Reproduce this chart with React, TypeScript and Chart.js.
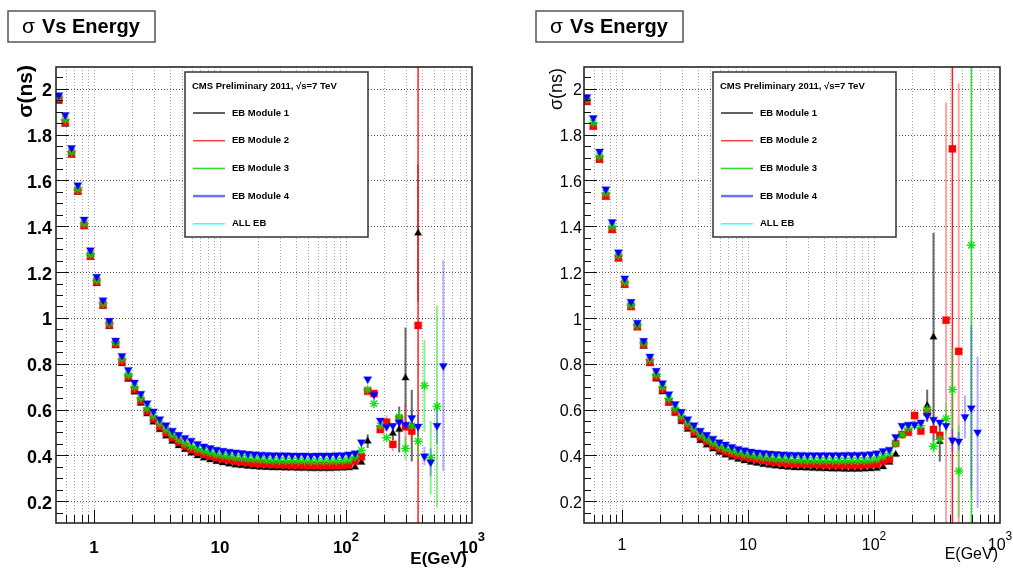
import React, { useEffect, useRef } from 'react';
import { Chart, registerables } from 'chart.js';

Chart.register(...registerables);

// ---------- DATA ----------
// Energy bin centres (GeV), 20 bins per decade
const energyBins: number[] = [
  0.527, 0.592, 0.664, 0.745, 0.836, 0.938, 1.052, 1.181, 1.325, 1.487,
  1.668, 1.872, 2.1, 2.356, 2.644, 2.966, 3.328, 3.734, 4.19, 4.701,
  5.275, 5.918, 6.64, 7.451, 8.36, 9.38, 10.52, 11.81, 13.25, 14.87,
  16.68, 18.72, 21.0, 23.56, 26.44, 29.66, 33.28, 37.34, 41.9, 47.01,
  52.75, 59.18, 66.4, 74.51, 83.6, 93.8, 105.2, 118.1, 132.5, 148.7,
  166.8, 187.2, 210.0, 235.6, 264.4, 296.6, 332.8, 373.4, 419.0, 470.1,
  527.5, 591.8, 664.0,
];

type V = number | null;

// Left panel
const leftModule1: V[] = [
  1.945, 1.845, 1.71, 1.548, 1.398, 1.264, 1.15, 1.05, 0.962, 0.878, 0.8, 0.732, 0.676, 0.627, 0.581, 0.545, 0.512, 0.484, 0.461, 0.442, 0.425, 0.41, 0.398, 0.388, 0.38, 0.373,
  0.367, 0.362, 0.358, 0.355, 0.352, 0.35, 0.348, 0.347, 0.346, 0.345, 0.344, 0.344, 0.343, 0.343, 0.342, 0.342, 0.342, 0.342, 0.343, 0.344, 0.345,
  0.349, 0.37, 0.462, null, null, null, 0.496, 0.513, 0.738, 0.53, 1.37, null, null, null, null, null,
];
const leftModule2: V[] = [
  1.955, 1.853, 1.716, 1.554, 1.404, 1.27, 1.158, 1.057, 0.97, 0.886, 0.81, 0.742, 0.687, 0.639, 0.593, 0.559, 0.526, 0.499, 0.477, 0.458, 0.44, 0.426, 0.414, 0.404, 0.397, 0.39,
  0.385, 0.38, 0.375, 0.372, 0.369, 0.366, 0.364, 0.362, 0.361, 0.36, 0.359, 0.358, 0.357, 0.357, 0.356, 0.356, 0.356, 0.355, 0.356, 0.356, 0.358,
  0.375, 0.394, 0.68, 0.67, 0.513, 0.545, 0.448, 0.56, 0.525, 0.506, 0.967, null, null, null, null, null,
];
const leftModule3: V[] = [
  1.962, 1.866, 1.725, 1.562, 1.412, 1.278, 1.165, 1.064, 0.977, 0.894, 0.82, 0.752, 0.699, 0.65, 0.607, 0.573, 0.54, 0.513, 0.49, 0.47, 0.453, 0.44, 0.429, 0.419, 0.412, 0.405,
  0.4, 0.396, 0.392, 0.389, 0.386, 0.384, 0.382, 0.38, 0.379, 0.378, 0.377, 0.377, 0.376, 0.376, 0.375, 0.375, 0.375, 0.375, 0.376, 0.377, 0.38,
  0.395, 0.422, 0.687, 0.626, 0.53, 0.477, null, 0.568, 0.43, 0.53, 0.462, 0.704, 0.39, 0.614, null, null,
];
const leftModule4: V[] = [
  1.973, 1.886, 1.742, 1.58, 1.43, 1.296, 1.18, 1.078, 0.988, 0.902, 0.835, 0.774, 0.719, 0.67, 0.629, 0.593, 0.559, 0.533, 0.509, 0.491, 0.477, 0.465, 0.451, 0.44, 0.433, 0.426,
  0.421, 0.417, 0.414, 0.411, 0.408, 0.406, 0.404, 0.403, 0.402, 0.401, 0.401, 0.4, 0.4, 0.4, 0.399, 0.4, 0.4, 0.4, 0.401, 0.402, 0.405,
  0.41, 0.458, 0.733, 0.665, 0.553, 0.525, 0.53, 0.545, 0.535, 0.564, 0.527, 0.397, 0.371, 0.53, 0.791, null,
];
// errors: [bin index, error]
const leftErr1: [number, number][] = [[49, 0.03], [53, 0.03], [54, 0.1], [55, 0.22], [56, 0.156], [57, 0.3]];
const leftErr2: [number, number][] = [[52, 0.03], [53, 0.03], [55, 0.1], [56, 0.05], [57, 2.0]];
const leftErr3: [number, number][] = [[54, 0.03], [55, 0.05], [57, 0.08], [58, 0.2], [59, 0.16], [60, 0.44]];
const leftErr4: [number, number][] = [[56, 0.03], [57, 0.05], [58, 0.04], [59, 0.06], [60, 0.08], [61, 0.46]];

// Right panel
const rightModule1: V[] = [
  1.94, 1.832, 1.688, 1.527, 1.381, 1.257, 1.142, 1.044, 0.956, 0.876, 0.8, 0.733, 0.677, 0.627, 0.583, 0.547, 0.514, 0.487, 0.464, 0.445, 0.428, 0.413, 0.401, 0.391, 0.383, 0.376,
  0.37, 0.365, 0.36, 0.356, 0.353, 0.35, 0.348, 0.346, 0.345, 0.344, 0.343, 0.342, 0.341, 0.34, 0.34, 0.339, 0.339, 0.339, 0.34, 0.341, 0.343,
  0.35, 0.37, 0.404, null, null, null, null, 0.617, 0.916, 0.46, null, null, null, null, null, null,
];
const rightModule2: V[] = [
  1.945, 1.838, 1.693, 1.532, 1.386, 1.262, 1.148, 1.05, 0.962, 0.883, 0.807, 0.742, 0.687, 0.636, 0.593, 0.559, 0.527, 0.501, 0.48, 0.462, 0.443, 0.429, 0.416, 0.407, 0.4, 0.394,
  0.388, 0.383, 0.378, 0.374, 0.371, 0.368, 0.366, 0.364, 0.363, 0.362, 0.361, 0.36, 0.359, 0.359, 0.358, 0.358, 0.358, 0.358, 0.359, 0.36, 0.362,
  0.375, 0.383, 0.452, 0.491, 0.501, 0.574, 0.506, 0.588, 0.513, 0.487, 0.99, 1.738, 0.854, null, null, null,
];
const rightModule3: V[] = [
  1.955, 1.852, 1.707, 1.545, 1.4, 1.273, 1.158, 1.058, 0.97, 0.891, 0.818, 0.754, 0.699, 0.649, 0.606, 0.573, 0.541, 0.515, 0.492, 0.474, 0.456, 0.441, 0.43, 0.42, 0.413, 0.406,
  0.401, 0.396, 0.392, 0.389, 0.386, 0.384, 0.382, 0.381, 0.38, 0.379, 0.378, 0.378, 0.377, 0.377, 0.377, 0.377, 0.377, 0.377, 0.378, 0.38, 0.384,
  0.395, 0.409, 0.452, 0.491, 0.52, 0.53, 0.53, 0.6, 0.44, 0.47, 0.56, 0.687, 0.332, null, 1.317, null,
];
const rightModule4: V[] = [
  1.965, 1.873, 1.727, 1.562, 1.419, 1.287, 1.173, 1.071, 0.98, 0.901, 0.832, 0.77, 0.716, 0.668, 0.625, 0.591, 0.559, 0.533, 0.509, 0.491, 0.474, 0.458, 0.448, 0.438, 0.429, 0.423,
  0.418, 0.414, 0.411, 0.409, 0.407, 0.405, 0.404, 0.403, 0.403, 0.402, 0.402, 0.402, 0.402, 0.402, 0.402, 0.403, 0.403, 0.403, 0.404, 0.406, 0.41,
  0.42, 0.426, 0.481, 0.53, 0.535, 0.535, 0.545, 0.574, 0.557, 0.545, 0.53, 0.467, 0.462, 0.568, 0.607, 0.501,
];
const rightErr1: [number, number][] = [[54, 0.07], [55, 0.455], [56, 0.087]];
const rightErr2: [number, number][] = [[52, 0.03], [54, 0.04], [57, 0.95], [58, 2.0], [59, 1.17]];
const rightErr3: [number, number][] = [[55, 0.03], [57, 0.07], [58, 0.18], [59, 0.2], [61, 2.0]];
const rightErr4: [number, number][] = [[58, 0.05], [59, 0.04], [60, 0.094], [61, 0.36], [62, 0.33]];

const seriesLabels = ['EB Module 1', 'EB Module 2', 'EB Module 3', 'EB Module 4', 'ALL EB'];
const legendHeader = 'CMS Preliminary 2011, \u221As=7 TeV';
const titleSymbol = '\u03C3';
const titleText = 'Vs Energy';
const yAxisTitle = '\u03C3(ns)';
const xAxisTitle = 'E(GeV)';
const yTicks = [0.2, 0.4, 0.6, 0.8, 1, 1.2, 1.4, 1.6, 1.8, 2];
const yTickLabels = ['0.2', '0.4', '0.6', '0.8', '1', '1.2', '1.4', '1.6', '1.8', '2'];
const xTickValues = [1, 10, 100, 1000];
const xTickBase = ['1', '10', '10', '10'];
const xTickExp = ['', '', '2', '3'];
const X_MIN = 0.5, X_MAX = 1000, Y_MIN = 0.105, Y_MAX = 2.095;

// ---------- STYLE ----------
const FAM = '"Liberation Sans", Arial, Helvetica, sans-serif';
const fnt = (size: number, bold: boolean) => `${bold ? 'bold ' : ''}${size}px ${FAM}`;

const seriesStyle = [
  { color: '#000000', halo: 'rgba(0,0,0,0.25)', err: 'rgba(40,40,40,0.7)', solid: '#000000', legend: '#606060', lw: 2 },
  { color: '#ff0000', halo: 'rgba(255,0,0,0.3)', err: 'rgba(255,50,50,0.45)', solid: '#ff2020', legend: '#ff4040', lw: 1.5 },
  { color: '#00e000', halo: 'rgba(0,224,0,0.9)', err: 'rgba(40,230,40,0.55)', solid: '#30e030', legend: '#30e030', lw: 1.5 },
  { color: '#0000ff', halo: 'rgba(0,0,255,0.3)', err: 'rgba(60,60,255,0.4)', solid: '#4040ff', legend: '#7070ff', lw: 2.5 },
  { color: '#00ffff', halo: '#00ffff', err: '#00ffff', solid: '#00ffff', legend: '#30ffff', lw: 1.5 },
];

interface Panel {
  values: V[][];
  errors: [number, number][][];
  bold: boolean;
  canvasW: number;
  padLeft: number;
  padRight: number;
  yLabelSize: number; yLabelGap: number;
  xLabelSize: number; xLabelDy: number; supSize: number; supDy: number;
  yTitleSize: number; yTitleDx: number; yTitleDy: number;
  xTitleSize: number; xTitleDx: number; xTitleDy: number;
}

const leftPanel: Panel = {
  values: [leftModule1, leftModule2, leftModule3, leftModule4],
  errors: [leftErr1, leftErr2, leftErr3, leftErr4],
  bold: true, canvasW: 506, padLeft: 56, padRight: 34,
  yLabelSize: 18, yLabelGap: 4,
  xLabelSize: 17, xLabelDy: 30, supSize: 13, supDy: 18,
  yTitleSize: 21, yTitleDx: -30, yTitleDy: -2,
  xTitleSize: 17, xTitleDx: -5, xTitleDy: 41,
};
const rightPanel: Panel = {
  values: [rightModule1, rightModule2, rightModule3, rightModule4],
  errors: [rightErr1, rightErr2, rightErr3, rightErr4],
  bold: false, canvasW: 507, padLeft: 78, padRight: 13,
  yLabelSize: 16, yLabelGap: 2,
  xLabelSize: 16, xLabelDy: 27, supSize: 12, supDy: 17,
  yTitleSize: 18, yTitleDx: -26.5, yTitleDy: 1,
  xTitleSize: 16, xTitleDx: -2, xTitleDy: 36,
};

function points(vals: V[]) {
  const out: { x: number; y: number }[] = [];
  vals.forEach((v, i) => { if (v !== null) out.push({ x: energyBins[i], y: v }); });
  return out;
}

function makePlugin(p: Panel) {
  const line = (ctx: CanvasRenderingContext2D, x1: number, y1: number, x2: number, y2: number) => {
    ctx.beginPath(); ctx.moveTo(x1, y1); ctx.lineTo(x2, y2); ctx.stroke();
  };
  return {
    id: 'rootStyle',
    beforeDatasetsDraw(chart: any) {
      const { ctx, chartArea: a, scales } = chart;
      const xs = scales.x, ys = scales.y;
      ctx.save();
      ctx.lineWidth = 1;
      ctx.setLineDash([1, 2]);
      ctx.strokeStyle = '#a8a8a8';
      for (let e = -1; e <= 3; e++) {
        for (let m = 1; m <= 9; m++) {
          const v = m * Math.pow(10, e);
          if (v <= X_MIN || v >= X_MAX) continue;
          const px = Math.round(xs.getPixelForValue(v)) + 0.5;
          line(ctx, px, a.top, px, a.bottom);
        }
      }
      ctx.strokeStyle = '#555555';
      for (const v of yTicks) {
        const py = Math.round(ys.getPixelForValue(v)) + 0.5;
        line(ctx, a.left, py, a.right, py);
      }
      ctx.setLineDash([]);
      ctx.beginPath();
      ctx.rect(a.left, a.top, a.right - a.left, a.bottom - a.top);
      ctx.clip();
      p.errors.forEach((errs, si) => {
        const st = seriesStyle[si];
        for (const [k, err] of errs) {
          const v = p.values[si][k];
          if (v === null || v === undefined) continue;
          const px = xs.getPixelForValue(energyBins[k]);
          const big = err >= 1.5;
          ctx.strokeStyle = big ? st.solid : st.err;
          ctx.lineWidth = big ? 1.5 : 2;
          line(ctx, px, ys.getPixelForValue(v + err), px, ys.getPixelForValue(v - err));
        }
      });
      ctx.restore();
    },
    afterDatasetsDraw(chart: any) {
      const { ctx, chartArea: a, scales } = chart;
      const xs = scales.x, ys = scales.y;
      ctx.save();
      // ticks (inside)
      ctx.strokeStyle = '#111';
      ctx.lineWidth = 1;
      for (let e = -1; e <= 3; e++) {
        for (let m = 1; m <= 9; m++) {
          const v = m * Math.pow(10, e);
          if (v <= X_MIN || v >= X_MAX) continue;
          const px = Math.round(xs.getPixelForValue(v)) + 0.5;
          line(ctx, px, a.bottom, px, a.bottom - (m === 1 ? 13 : 8));
        }
      }
      for (let i = 3; i <= 41; i++) {
        const v = i * 0.05;
        if (v <= Y_MIN || v >= Y_MAX) continue;
        const py = Math.round(ys.getPixelForValue(v)) + 0.5;
        line(ctx, a.left, py, a.left + (i % 4 === 0 ? 13 : 7), py);
      }
      // frame
      ctx.lineWidth = 1.5;
      ctx.strokeStyle = '#1a1a1a';
      ctx.strokeRect(a.left, a.top, a.right - a.left, a.bottom - a.top);

      ctx.fillStyle = '#000';
      // y labels
      ctx.font = fnt(p.yLabelSize, p.bold);
      ctx.textAlign = 'right';
      ctx.textBaseline = 'alphabetic';
      yTicks.forEach((v, i) => {
        ctx.fillText(yTickLabels[i], a.left - p.yLabelGap, ys.getPixelForValue(v) + 0.42 * p.yLabelSize);
      });
      // x labels
      xTickValues.forEach((v, i) => {
        const cx = xs.getPixelForValue(v);
        ctx.font = fnt(p.xLabelSize, p.bold);
        const wb = ctx.measureText(xTickBase[i]).width;
        ctx.font = fnt(p.supSize, p.bold);
        const we = xTickExp[i] ? ctx.measureText(xTickExp[i]).width : 0;
        const x0 = cx - (wb + we) / 2;
        ctx.textAlign = 'left';
        ctx.font = fnt(p.xLabelSize, p.bold);
        ctx.fillText(xTickBase[i], x0, a.bottom + p.xLabelDy);
        if (xTickExp[i]) {
          ctx.font = fnt(p.supSize, p.bold);
          ctx.fillText(xTickExp[i], x0 + wb, a.bottom + p.supDy);
        }
      });
      // axis titles
      ctx.font = fnt(p.xTitleSize, p.bold);
      ctx.textAlign = 'right';
      ctx.fillText(xAxisTitle, a.right + p.xTitleDx, a.bottom + p.xTitleDy);
      ctx.save();
      ctx.translate(a.left + p.yTitleDx, a.top + p.yTitleDy);
      ctx.rotate(-Math.PI / 2);
      ctx.font = fnt(p.yTitleSize, p.bold);
      ctx.textAlign = 'right';
      ctx.textBaseline = 'middle';
      ctx.fillText(yAxisTitle, 0, 0);
      ctx.restore();

      // legend
      const lx = a.left + 129, ly = a.top + 5, lw = 183, lh = 165;
      ctx.fillStyle = '#fff';
      ctx.fillRect(lx, ly, lw, lh);
      ctx.lineWidth = 1.5;
      ctx.strokeStyle = '#333';
      ctx.strokeRect(lx, ly, lw, lh);
      ctx.fillStyle = '#000';
      ctx.font = fnt(9.5, true);
      ctx.textAlign = 'left';
      ctx.textBaseline = 'alphabetic';
      ctx.fillText(legendHeader, lx + 7, ly + 17);
      seriesLabels.forEach((lab, i) => {
        const yy = ly + 41 + i * 27.7;
        ctx.strokeStyle = seriesStyle[i].legend;
        ctx.lineWidth = seriesStyle[i].lw;
        line(ctx, lx + 8, yy, lx + 40, yy);
        ctx.fillStyle = '#000';
        ctx.textBaseline = 'middle';
        ctx.fillText(lab, lx + 47, yy);
      });

      // title box
      const tx = a.left - 48, ty = 11, tw = 147, th = 31;
      ctx.fillStyle = '#fff';
      ctx.fillRect(tx, ty, tw, th);
      ctx.strokeStyle = '#555';
      ctx.lineWidth = 1.5;
      ctx.strokeRect(tx, ty, tw, th);
      ctx.fillStyle = '#000';
      ctx.textBaseline = 'alphabetic';
      ctx.textAlign = 'left';
      ctx.font = fnt(21, false);
      ctx.fillText(titleSymbol, tx + 14, ty + 22);
      ctx.font = fnt(20, true);
      ctx.fillText(titleText, tx + 34, ty + 22);
      ctx.restore();
    },
  };
}

function makeConfig(p: Panel): any {
  const shapes = [
    { pointStyle: 'triangle', pointRadius: 4.2, pointRotation: 0, pointBorderWidth: 1.2 },
    { pointStyle: 'rect', pointRadius: 5, pointRotation: 0, pointBorderWidth: 1.2 },
    { pointStyle: 'star', pointRadius: 4.5, pointRotation: 0, pointBorderWidth: 1.4 },
    { pointStyle: 'triangle', pointRadius: 4.6, pointRotation: 180, pointBorderWidth: 1.2 },
  ];
  const order = [3, 2, 1, 0]; // first dataset drawn on top
  const datasets = order.map((si) => ({
    label: seriesLabels[si],
    data: points(p.values[si]),
    showLine: false,
    pointBackgroundColor: seriesStyle[si].color,
    pointBorderColor: seriesStyle[si].halo,
    ...shapes[si],
  }));
  return {
    type: 'scatter',
    data: { datasets },
    options: {
      responsive: false,
      animation: false,
      events: [],
      layout: { padding: { left: p.padLeft, right: p.padRight, top: 67, bottom: 46 } },
      plugins: { legend: { display: false }, tooltip: { enabled: false }, title: { display: false } },
      scales: {
        x: { type: 'logarithmic', min: X_MIN, max: X_MAX, display: false },
        y: { type: 'linear', min: Y_MIN, max: Y_MAX, display: false },
      },
    },
    plugins: [makePlugin(p)],
  };
}

export default function App() {
  const leftRef = useRef<HTMLCanvasElement>(null);
  const rightRef = useRef<HTMLCanvasElement>(null);
  useEffect(() => {
    const c1 = new Chart(leftRef.current as HTMLCanvasElement, makeConfig(leftPanel));
    const c2 = new Chart(rightRef.current as HTMLCanvasElement, makeConfig(rightPanel));
    return () => { c1.destroy(); c2.destroy(); };
  }, []);
  return (
    <div style={{ position: 'absolute', left: 0, top: 0, width: 1013, height: 569, background: '#fff', overflow: 'hidden' }}>
      <canvas ref={leftRef} width={leftPanel.canvasW} height={569} style={{ position: 'absolute', left: 0, top: 0 }} />
      <canvas ref={rightRef} width={rightPanel.canvasW} height={569} style={{ position: 'absolute', left: 506, top: 0 }} />
    </div>
  );
}
